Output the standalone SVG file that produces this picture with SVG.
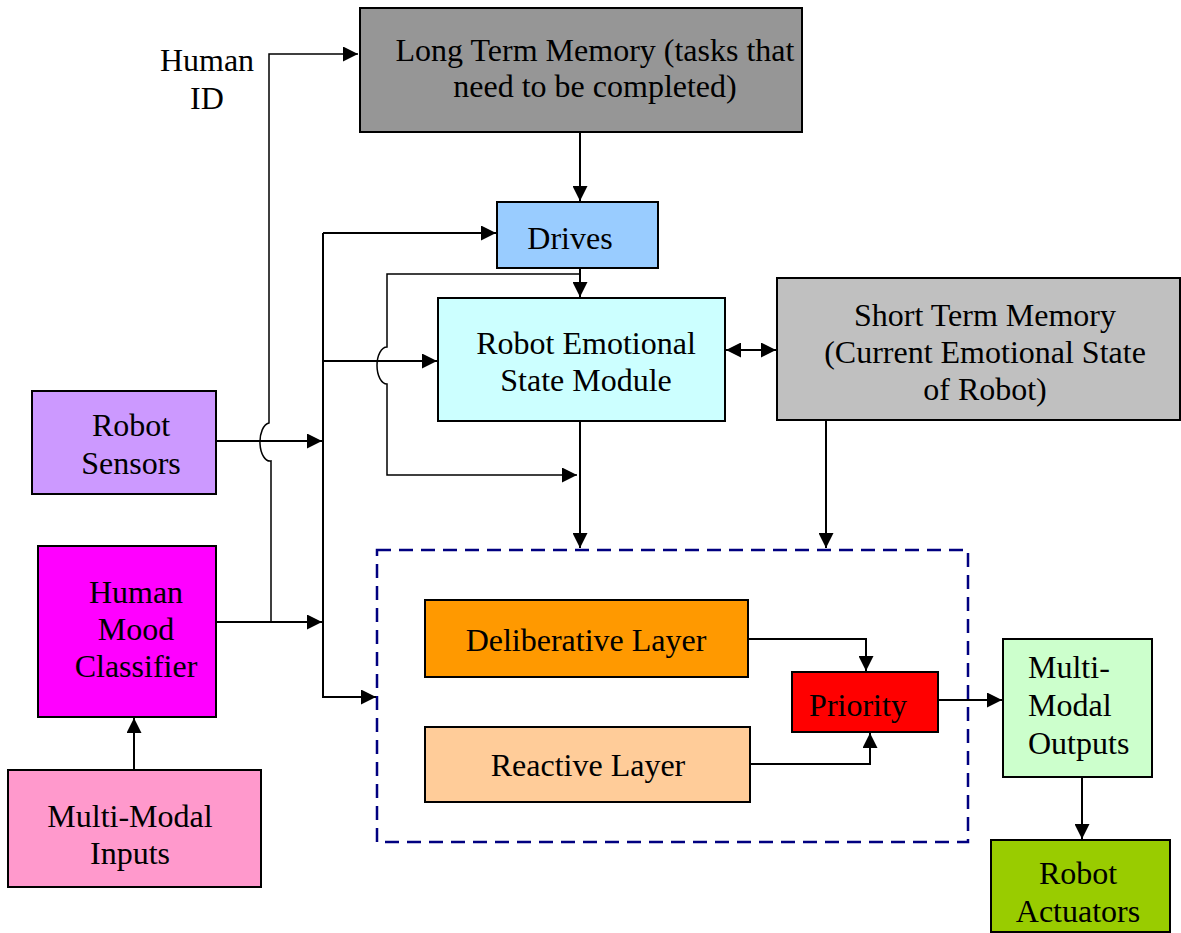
<svg xmlns="http://www.w3.org/2000/svg" width="1181" height="933" viewBox="0 0 1181 933">
<style>
.box{stroke:#000;stroke-width:2}
.t{font-family:"Liberation Serif","Times New Roman",serif;font-size:32px;fill:#000;text-anchor:middle}
.tl{font-family:"Liberation Serif","Times New Roman",serif;font-size:32px;fill:#000}
.c{fill:none;stroke:#000;stroke-width:2}
.c1{fill:none;stroke:#000;stroke-width:1.5}
</style>
<defs>
<marker id="ah" viewBox="0 0 10 10" refX="10" refY="5" markerWidth="15" markerHeight="15" markerUnits="userSpaceOnUse" orient="auto-start-reverse">
<path d="M0,0 L10,5 L0,10 z" fill="#000"/>
</marker>
</defs>
<rect width="1181" height="933" fill="#fff"/>
<g id="ltm"><rect class="box" x="360" y="8" width="442" height="124" fill="#969696"/>
<text class="t" x="595" y="61">Long Term Memory (tasks that</text>
<text class="t" x="595" y="97">need to be completed)</text></g>
<g id="humanid"><text class="t" x="207" y="71">Human</text><text class="t" x="207" y="109">ID</text></g>
<g id="drives"><rect class="box" x="497" y="202" width="161" height="66" fill="#99ccff"/>
<text class="t" x="570" y="249">Drives</text></g>
<g id="resm"><rect class="box" x="438" y="298" width="287" height="123" fill="#ccffff"/>
<text class="t" x="586" y="354">Robot Emotional</text><text class="t" x="586" y="391">State Module</text></g>
<g id="stm"><rect class="box" x="777" y="278" width="403" height="142" fill="#c0c0c0"/>
<text class="t" x="985" y="326">Short Term Memory</text><text class="t" x="985" y="363">(Current Emotional State</text><text class="t" x="985" y="400">of Robot)</text></g>
<g id="sensors"><rect class="box" x="32" y="391" width="184" height="103" fill="#cc99ff"/>
<text class="t" x="131" y="436">Robot</text><text class="t" x="131" y="474">Sensors</text></g>
<g id="hmc"><rect class="box" x="38" y="546" width="178" height="171" fill="#ff00ff"/>
<text class="t" x="136" y="603">Human</text><text class="t" x="136" y="640">Mood</text><text class="t" x="136" y="677">Classifier</text></g>
<g id="mmi"><rect class="box" x="8" y="770" width="253" height="117" fill="#ff99cc"/>
<text class="t" x="130" y="827">Multi-Modal</text><text class="t" x="130" y="864">Inputs</text></g>
<g id="container"><rect x="377" y="550" width="591" height="292" fill="none" stroke="#000080" stroke-width="2.5" stroke-dasharray="14,8"/></g>
<g id="delib"><rect class="box" x="425" y="600" width="323" height="77" fill="#ff9900"/>
<text class="t" x="586" y="651">Deliberative Layer</text></g>
<g id="react"><rect class="box" x="425" y="727" width="325" height="75" fill="#ffcc99"/>
<text class="t" x="588" y="776">Reactive Layer</text></g>
<g id="priority"><rect class="box" x="792" y="672" width="146" height="60" fill="#ff0000"/>
<text class="t" x="858" y="716">Priority</text></g>
<g id="mmo"><rect class="box" x="1003" y="639" width="149" height="138" fill="#ccffcc"/>
<text class="tl" x="1028" y="678">Multi-</text><text class="tl" x="1028" y="716">Modal</text><text class="tl" x="1028" y="754">Outputs</text></g>
<g id="actuators"><rect class="box" x="991" y="840" width="179" height="92" fill="#99cc00"/>
<text class="t" x="1078" y="884">Robot</text><text class="t" x="1078" y="922">Actuators</text></g>
<g id="connectors">
<path class="c1" d="M271,622 L271,461 A10,19 0 0 1 269,423 L269,54 L358,54" marker-end="url(#ah)"/>
<path class="c" d="M216,441 L322,441" marker-end="url(#ah)"/>
<path class="c" d="M216,622 L322,622" marker-end="url(#ah)"/>
<path class="c" d="M323,233 L323,697 L376,697" marker-end="url(#ah)"/>
<path class="c" d="M323,233 L496,233" marker-end="url(#ah)"/>
<path class="c" d="M323,361 L437,361" marker-end="url(#ah)"/>
<path class="c" d="M580,132 L580,201" marker-end="url(#ah)"/>
<path class="c" d="M580,268 L580,297" marker-end="url(#ah)"/>
<path class="c1" d="M580,274 L387,274 L387,347 A10,18.5 0 0 0 387,384 L387,475 L577,475" marker-end="url(#ah)"/>
<path class="c" d="M580,421 L580,548" marker-end="url(#ah)"/>
<path class="c" d="M826,420 L826,548" marker-end="url(#ah)"/>
<path class="c" d="M726,350 L776,350" marker-start="url(#ah)" marker-end="url(#ah)"/>
<path class="c" d="M748,639 L866,639 L866,671" marker-end="url(#ah)"/>
<path class="c" d="M750,764 L870,764 L870,733" marker-end="url(#ah)"/>
<path class="c" d="M938,700 L1002,700" marker-end="url(#ah)"/>
<path class="c" d="M1082,777 L1082,839" marker-end="url(#ah)"/>
<path class="c" d="M134,770 L134,718" marker-end="url(#ah)"/>
</g>
</svg>
